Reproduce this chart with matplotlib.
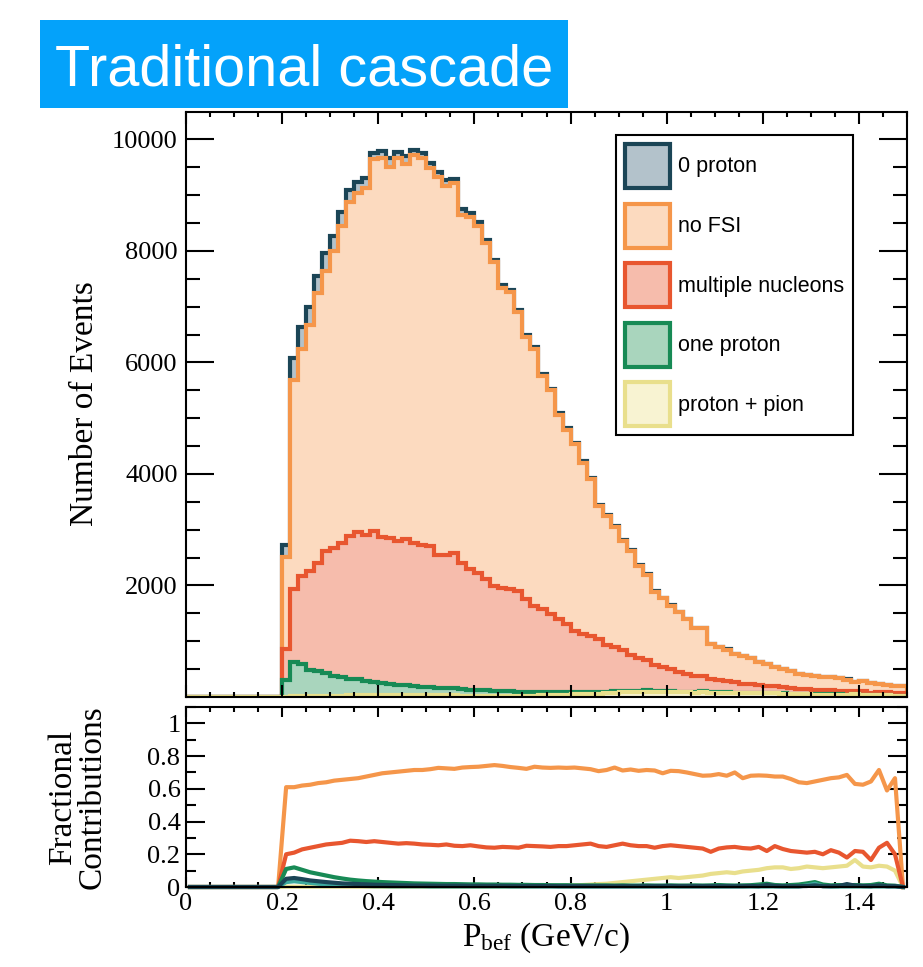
import matplotlib

matplotlib.use("Agg")
import matplotlib.pyplot as plt
import numpy as np
from matplotlib.patches import Patch, Rectangle
from matplotlib.ticker import FixedLocator, FuncFormatter, MultipleLocator

plt.rcParams["font.family"] = ["Liberation Serif", "DejaVu Serif"]
plt.rcParams["mathtext.fontset"] = "custom"
plt.rcParams["mathtext.rm"] = "Liberation Serif"
plt.rcParams["mathtext.it"] = "Liberation Serif:italic"

# 90 bins in P_bef, 0 - 1.5 GeV/c; the first 12 bins (below 0.2) are empty
bin_edges = np.linspace(0.0, 1.5, 91)
empty_bins = [0] * 12

# events per bin, bins from 0.2 GeV/c upwards
proton_pion = [8, 18, 20, 21, 23, 24, 25, 26, 27, 28,
               28, 29, 29, 29, 29, 29, 29, 29, 29, 28,
               28, 28, 26, 26, 25, 24, 23, 22, 22, 22,
               23, 25, 28, 32, 36, 40, 45, 50, 59, 62,
               65, 76, 84, 92, 94, 98, 94, 97, 98, 83,
               84, 80, 86, 76, 76, 76, 65, 69, 69, 65,
               68, 64, 60, 52, 47, 49, 44, 41, 42, 42,
               40, 45, 37, 30, 30, 27, 20, 20]
one_proton = [292, 603, 571, 468, 448, 406, 357, 326, 300, 290,
              250, 240, 215, 205, 190, 180, 165, 155, 145, 135,
              125, 130, 115, 105, 100, 95, 90, 85, 80, 75,
              70, 66, 60, 56, 52, 48, 44, 40, 36, 32,
              30, 28, 26, 24, 22, 20, 18, 17, 16, 15,
              14, 13, 13, 10, 9, 9, 8, 7, 7, 6,
              8, 5, 5, 5, 4, 5, 8, 4, 4, 3,
              3, 3, 3, 3, 4, 2, 2, 2]
multi_nucleon = [559, 1312, 1581, 1772, 1940, 2189, 2297, 2405, 2561, 2648,
                 2622, 2709, 2632, 2612, 2579, 2619, 2575, 2543, 2535, 2379,
                 2397, 2432, 2270, 2160, 2107, 1993, 1880, 1856, 1831, 1807,
                 1665, 1538, 1486, 1395, 1317, 1215, 1100, 1040, 990, 940,
                 830, 790, 730, 640, 590, 540, 470, 430, 380, 350,
                 320, 290, 280, 235, 220, 205, 200, 165, 155, 145,
                 130, 125, 115, 105, 92, 88, 80, 74, 76, 70,
                 62, 58, 60, 45, 52, 55, 48, 45]
no_fsi = [1647, 3759, 4069, 4416, 4833, 5024, 5322, 5692, 5996, 6079,
          6235, 6664, 6784, 6664, 6862, 6722, 6951, 6933, 6772, 6789,
          6615, 6622, 6235, 6314, 6217, 6027, 5799, 5370, 5322, 4994,
          4696, 4606, 4189, 4015, 3652, 3490, 3340, 3071, 2817, 2390,
          2320, 2161, 1958, 1863, 1644, 1526, 1303, 1223, 1140, 1068,
          978, 847, 851, 628, 585, 557, 497, 488, 462, 405,
          385, 338, 321, 309, 269, 252, 238, 234, 231, 220,
          205, 168, 192, 173, 147, 131, 133, 136]
zero_proton = [220, 388, 394, 316, 310, 317, 269, 256, 209, 185,
               167, 119, 131, 150, 120, 150, 90, 90, 101, 90,
               107, 72, 102, 82, 60, 55, 50, 48, 45, 42,
               40, 38, 35, 33, 30, 28, 26, 24, 22, 20,
               19, 18, 16, 15, 14, 13, 12, 11, 10, 9,
               9, 8, 8, 7, 6, 6, 5, 5, 5, 4,
               6, 4, 3, 3, 3, 3, 3, 3, 3, 3,
               5, 3, 3, 2, 3, 2, 2, 2]

# fractional contributions per bin, bins from 0.2 GeV/c upwards
frac_no_fsi = [0.61, 0.61, 0.62, 0.625, 0.635, 0.64, 0.65, 0.655, 0.66, 0.665,
               0.675, 0.685, 0.695, 0.70, 0.705, 0.71, 0.715, 0.715, 0.72, 0.728,
               0.725, 0.722, 0.73, 0.733, 0.735, 0.74, 0.745, 0.74, 0.733, 0.728,
               0.722, 0.735, 0.73, 0.728, 0.73, 0.728, 0.73, 0.725, 0.72, 0.708,
               0.715, 0.73, 0.712, 0.718, 0.71, 0.715, 0.712, 0.695, 0.71, 0.708,
               0.70, 0.69, 0.68, 0.682, 0.69, 0.68, 0.70, 0.665, 0.68, 0.682,
               0.68, 0.675, 0.675, 0.66, 0.64, 0.635, 0.645, 0.655, 0.665, 0.67,
               0.685, 0.63, 0.625, 0.645, 0.715, 0.59, 0.665, 0.0]
frac_multi = [0.20, 0.21, 0.23, 0.24, 0.25, 0.26, 0.265, 0.27, 0.283, 0.28,
              0.275, 0.28, 0.275, 0.27, 0.265, 0.268, 0.265, 0.26, 0.258, 0.255,
              0.26, 0.252, 0.25, 0.255, 0.248, 0.242, 0.24, 0.245, 0.243, 0.24,
              0.252, 0.25, 0.248, 0.245, 0.25, 0.25, 0.255, 0.26, 0.265, 0.25,
              0.245, 0.255, 0.265, 0.255, 0.25, 0.25, 0.24, 0.25, 0.255, 0.25,
              0.245, 0.24, 0.235, 0.215, 0.235, 0.242, 0.245, 0.238, 0.235, 0.245,
              0.22, 0.25, 0.232, 0.22, 0.215, 0.21, 0.215, 0.20, 0.225, 0.21,
              0.18, 0.22, 0.215, 0.165, 0.24, 0.27, 0.20, 0.0]
frac_pion = [0.002, 0.002, 0.002, 0.002, 0.002, 0.002, 0.002, 0.002, 0.002, 0.002,
             0.002, 0.002, 0.002, 0.002, 0.002, 0.002, 0.002, 0.002, 0.002, 0.002,
             0.002, 0.002, 0.002, 0.002, 0.002, 0.002, 0.003, 0.003, 0.004, 0.004,
             0.005, 0.005, 0.006, 0.006, 0.007, 0.008, 0.01, 0.012, 0.015, 0.018,
             0.02, 0.025, 0.03, 0.035, 0.04, 0.045, 0.05, 0.055, 0.06, 0.055,
             0.06, 0.065, 0.07, 0.08, 0.085, 0.09, 0.085, 0.095, 0.10, 0.105,
             0.115, 0.12, 0.12, 0.11, 0.115, 0.125, 0.12, 0.115, 0.12, 0.125,
             0.13, 0.165, 0.125, 0.12, 0.13, 0.125, 0.10, 0.0]
frac_one_proton = [0.11, 0.12, 0.105, 0.09, 0.08, 0.07, 0.06, 0.052, 0.045, 0.04,
                   0.036, 0.033, 0.03, 0.028, 0.026, 0.024, 0.022, 0.021, 0.02, 0.019,
                   0.018, 0.018, 0.017, 0.016, 0.016, 0.015, 0.015, 0.014, 0.014, 0.013,
                   0.013, 0.012, 0.012, 0.011, 0.011, 0.011, 0.01, 0.01, 0.01, 0.01,
                   0.01, 0.009, 0.01, 0.009, 0.009, 0.01, 0.009, 0.009, 0.01, 0.009,
                   0.009, 0.01, 0.009, 0.01, 0.012, 0.01, 0.009, 0.01, 0.011, 0.015,
                   0.02, 0.012, 0.01, 0.012, 0.015, 0.022, 0.03, 0.015, 0.01, 0.012,
                   0.01, 0.012, 0.01, 0.012, 0.02, 0.01, 0.008, 0.0]
frac_other = [0.03, 0.035, 0.03, 0.025, 0.02, 0.016, 0.012, 0.01, 0.008, 0.007,
              0.006, 0.005, 0.005, 0.004, 0.004, 0.004, 0.004, 0.004, 0.003, 0.003,
              0.003, 0.003, 0.003, 0.003, 0.003, 0.003, 0.003, 0.003, 0.003, 0.003,
              0.003, 0.003, 0.003, 0.003, 0.003, 0.003, 0.003, 0.003, 0.003, 0.003,
              0.003, 0.003, 0.003, 0.003, 0.003, 0.003, 0.003, 0.003, 0.003, 0.003,
              0.003, 0.003, 0.003, 0.003, 0.003, 0.003, 0.003, 0.003, 0.003, 0.003,
              0.003, 0.003, 0.003, 0.003, 0.003, 0.01, 0.02, 0.005, 0.003, 0.003,
              0.003, 0.003, 0.003, 0.003, 0.003, 0.003, 0.003, 0.0]
frac_zero_proton = [0.05, 0.055, 0.048, 0.04, 0.035, 0.03, 0.026, 0.022, 0.02, 0.018,
                    0.016, 0.014, 0.013, 0.012, 0.011, 0.01, 0.009, 0.009, 0.009, 0.008,
                    0.008, 0.008, 0.008, 0.007, 0.007, 0.007, 0.007, 0.007, 0.006, 0.006,
                    0.006, 0.006, 0.006, 0.006, 0.005, 0.005, 0.005, 0.005, 0.005, 0.005,
                    0.005, 0.005, 0.005, 0.005, 0.005, 0.005, 0.005, 0.005, 0.006, 0.005,
                    0.005, 0.005, 0.005, 0.005, 0.005, 0.005, 0.005, 0.005, 0.006, 0.005,
                    0.012, 0.006, 0.005, 0.005, 0.005, 0.006, 0.01, 0.005, 0.005, 0.006,
                    0.018, 0.008, 0.006, 0.005, 0.01, 0.005, 0.005, 0.0]

# (label, counts, line colour, fill colour), bottom of the stack first
components = [
    ("proton + pion", proton_pion, "#E9DF8C", "#F8F3D2"),
    ("one proton", one_proton, "#178A55", "#A9D5BD"),
    ("multiple nucleons", multi_nucleon, "#E8562F", "#F6BCAC"),
    ("no FSI", no_fsi, "#F5964A", "#FCDABF"),
    ("0 proton", zero_proton, "#1B4556", "#B3C2CB"),
]
fractions = [
    (frac_pion, "#E9DF8C"),
    (frac_no_fsi, "#F5964A"),
    (frac_multi, "#E8562F"),
    (frac_one_proton, "#178A55"),
    (frac_other, "#3DAA9E"),
    (frac_zero_proton, "#1B4556"),
]

W, H = 923, 967
fig = plt.figure(figsize=(W / 100, H / 100), dpi=100)


def fig_box(left, top, right, bottom):
    return [left / W, 1 - bottom / H, (right - left) / W, (bottom - top) / H]


ax = fig.add_axes(fig_box(186, 112, 907, 697))
ax2 = fig.add_axes(fig_box(186, 707, 907, 887))

stacks = np.cumsum([empty_bins + counts for _, counts, _, _ in components], axis=0)
for stack, (_, _, line, fill) in reversed(list(zip(stacks, components))):
    ax.stairs(stack, bin_edges, fill=True, color=fill, lw=0)
    ax.stairs(stack, bin_edges, color=line, lw=3, joinstyle="miter")

centres = 0.5 * (bin_edges[:-1] + bin_edges[1:])
for vals, colour in fractions:
    ax2.plot(centres, empty_bins + vals, color=colour, lw=3, solid_joinstyle="round", clip_on=False)

ax.set_xlim(0, 1.5)
ax.set_ylim(0, 10490)
ax2.set_xlim(0, 1.5)
ax2.set_ylim(0, 1.1)

fmt = FuncFormatter(lambda v, _: f"{v:g}")
for a in (ax, ax2):
    for s in a.spines.values():
        s.set_linewidth(1.5)
    a.xaxis.set_major_locator(MultipleLocator(0.2))
    a.xaxis.set_minor_locator(MultipleLocator(0.05))
    a.xaxis.set_major_formatter(fmt)
    a.yaxis.set_major_formatter(fmt)
    a.tick_params(which="both", direction="in", top=True, right=True, width=1.5, labelsize=19)

ax.yaxis.set_major_locator(FixedLocator([2000, 4000, 6000, 8000, 10000]))
ax.yaxis.set_minor_locator(MultipleLocator(500))
ax.tick_params(axis="x", which="major", length=8.5, labelbottom=False)
ax.tick_params(axis="x", which="minor", length=3.6)
ax.tick_params(axis="y", which="major", length=20, pad=6)
ax.tick_params(axis="y", which="minor", length=10)

ax2.yaxis.set_major_locator(MultipleLocator(0.2))
ax2.yaxis.set_minor_locator(MultipleLocator(0.1))
ax2.tick_params(axis="x", which="major", length=7, pad=4)
ax2.tick_params(axis="x", which="minor", length=3.5)
ax2.tick_params(axis="y", which="major", length=14, pad=4)
ax2.tick_params(axis="y", which="minor", length=7)

handles = [Patch(facecolor=fill, edgecolor=line, linewidth=3, label=label)
           for label, _, line, fill in reversed(components)]
leg = ax.legend(handles=handles, loc="upper left", bbox_to_anchor=((616 - 186) / 721, (697 - 135) / 585),
                borderaxespad=0, frameon=True, fancybox=False, framealpha=1, edgecolor="black",
                prop={"family": "Liberation Sans", "size": 15.5}, handlelength=2.1, handleheight=2.77,
                labelspacing=0.72, borderpad=0.42, handletextpad=0.37)
leg.get_frame().set_linewidth(1.5)

fig.text(85 / W, 1 - 404 / H, "Number of Events", rotation=90, fontsize=24, ha="center", va="center")
fig.text(78 / W, 1 - 797 / H, "Fractional\nContributions", rotation=90, fontsize=24,
         ha="center", va="center", multialignment="center", linespacing=0.95)
fig.text(546 / W, 1 - 938 / H, r"P$_{\mathrm{bef}}$ (GeV/c)", fontsize=24, ha="center", va="center")

fig.patches.append(Rectangle((40 / W, 1 - 108 / H), 528 / W, 88 / H, transform=fig.transFigure,
                             facecolor="#04A2FA", edgecolor="none"))
fig.text(304 / W, 1 - 86 / H, "Traditional cascade", color="white", fontsize=41.5,
         family="Liberation Sans", ha="center", va="baseline")

fig.savefig("out.png", dpi=100)
